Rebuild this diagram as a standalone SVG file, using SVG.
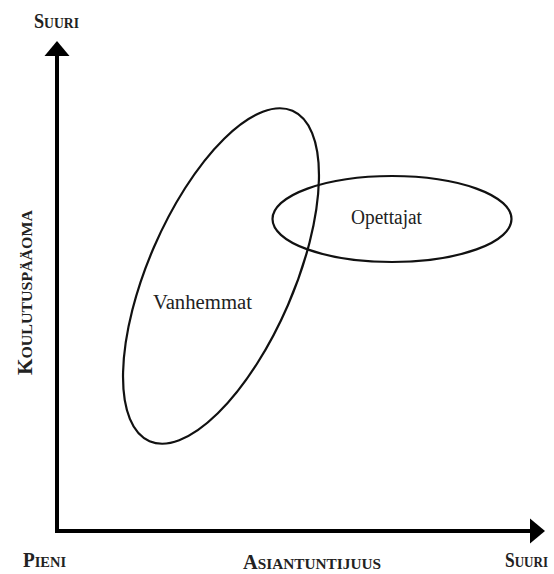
<svg xmlns="http://www.w3.org/2000/svg" width="554" height="574" viewBox="0 0 554 574">
<style>
.axis{stroke:#000;stroke-width:4;fill:none}
.head{fill:#000;stroke:none}
.ell{fill:none;stroke:#111;stroke-width:2.2}
.lbl{font-family:"Liberation Serif","Times New Roman",serif;font-size:20px;fill:#222}
.ax{font-family:"Liberation Serif","Times New Roman",serif;font-weight:bold;fill:#222}
.big{font-size:20px}
.sm{font-size:15px}
</style>
<rect width="554" height="574" fill="#fff"/>
<g id="axes">
<path class="axis" d="M57,531 V54 M55,531 H532"/>
<polygon class="head" points="57,41 69.5,56 44.5,56"/>
<polygon class="head" points="545,531 530,518.5 530,543.5"/>
</g>
<g id="vanhemmat">
<ellipse class="ell" cx="221" cy="276" rx="180" ry="73" transform="rotate(-66.6 221 276)"/>
<text class="lbl" x="153" y="309" textLength="99" lengthAdjust="spacingAndGlyphs">Vanhemmat</text>
</g>
<g id="opettajat">
<ellipse class="ell" cx="392" cy="219" rx="119.5" ry="43"/>
<text class="lbl" x="351" y="224" textLength="71" lengthAdjust="spacingAndGlyphs">Opettajat</text>
</g>
<g id="labels">
<text class="ax" x="34" y="28" textLength="45" lengthAdjust="spacingAndGlyphs"><tspan class="big">S</tspan><tspan class="sm">UURI</tspan></text>
<text class="ax" x="23" y="567" textLength="43" lengthAdjust="spacingAndGlyphs"><tspan class="big">P</tspan><tspan class="sm">IENI</tspan></text>
<text class="ax" x="243" y="569" textLength="138" lengthAdjust="spacingAndGlyphs"><tspan class="big">A</tspan><tspan class="sm">SIANTUNTIJUUS</tspan></text>
<text class="ax" x="505" y="567" textLength="43" lengthAdjust="spacingAndGlyphs"><tspan class="big">S</tspan><tspan class="sm">UURI</tspan></text>
<text class="ax" transform="translate(32,375) rotate(-90)" x="0" y="0" textLength="165" lengthAdjust="spacingAndGlyphs"><tspan class="big">K</tspan><tspan class="sm">OULUTUSPÄÄOMA</tspan></text>
</g>
</svg>
